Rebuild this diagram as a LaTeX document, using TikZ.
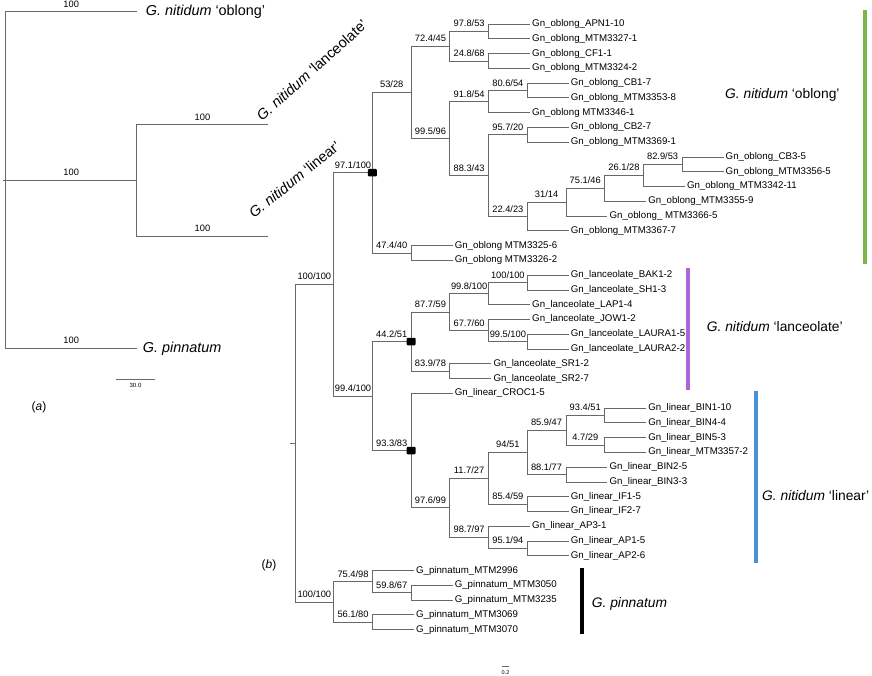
\documentclass[tikz,border=0pt]{standalone}
\usepackage{fontspec}
\setmainfont{Liberation Sans}
\usepackage{xcolor}
\definecolor{branchgray}{RGB}{105,105,105}
\definecolor{oblonggreen}{RGB}{122,182,72}
\definecolor{lancpurple}{RGB}{170,102,214}
\definecolor{linearblue}{RGB}{74,144,217}
\tikzset{
leaf/.style={anchor=west, inner xsep=2pt, inner ysep=1pt, font=\fontsize{9.7}{10}\selectfont}, % tip labels
bs/.style={pos=0.75, above=4pt, inner sep=0pt, font=\fontsize{9.3}{10}\selectfont}, % support values over the branch
boot/.style={fill=black, rounded corners=1pt, minimum width=9pt, minimum height=7.5pt, inner sep=0pt}, % black node marks
clade/.style={anchor=west, inner sep=0pt, font=\fontsize{13.8}{16}\selectfont}, % clade names
cladebar/.style={line width=4pt}, % coloured bars on the right
}

\begin{document}
\begin{tikzpicture}[x=1pt, y=-1pt,
    every edge/.style={draw=branchgray, line width=0.7pt, to path={|- (\tikztotarget) \tikztonodes}}]
    \useasboundingbox (0,0) rectangle (872,676);

    % (a) species tree
    \coordinate (astub) at (2.5,180);
    \coordinate (aroot) at (5.7,180);
    \coordinate (ain) at (136.7,180);
    \coordinate (alanend) at (268.3,124.7);
    \coordinate (alinend) at (268.3,236);
    \node[clade, inner xsep=9pt, font=\fontsize{14.4}{16}\selectfont] (aobl) at (136.7,11.7) {\textit{G. nitidum} `oblong'};
    \node[clade, inner xsep=6pt, font=\fontsize{14.4}{16}\selectfont] (apin) at (136.7,348.3) {\textit{G. pinnatum}};
    \node[clade, anchor=base west, rotate=42, font=\fontsize{14.5}{16}\selectfont] (alan) at (262,122) {\textit{G. nitidum} `lanceolate'};
    \node[clade, anchor=base west, rotate=39, font=\fontsize{14.5}{16}\selectfont] (alin) at (254,219) {\textit{G. nitidum} `linear'};

    \draw[branchgray, line width=0.7pt] (astub) -- (aroot);
    \draw (aroot) edge node[bs]{100} (aobl)
                  edge node[bs]{100} (ain)
                  edge node[bs]{100} (apin)
          (ain) edge node[bs]{100} (alanend)
                edge node[bs]{100} (alinend);

    \coordinate (asc1) at (116,379);
    \coordinate (asc2) at (155,379);
    \draw[branchgray, line width=0.7pt] (asc1) -- node[below=1pt, font=\fontsize{6}{7}\selectfont, text=black]{30.0} (asc2);
    \node[font=\fontsize{12}{14}\selectfont] (labela) at (39,407) {(\textit{a})};

    % (b) gene tree, leaves
    \node[leaf] (l1) at (530.0,24.00) {Gn\_oblong\_APN1-10};
    \node[leaf] (l2) at (530.0,38.77) {Gn\_oblong\_MTM3327-1};
    \node[leaf] (l3) at (530.0,53.54) {Gn\_oblong\_CF1-1};
    \node[leaf] (l4) at (530.0,68.31) {Gn\_oblong\_MTM3324-2};
    \node[leaf] (l5) at (568.7,83.08) {Gn\_oblong\_CB1-7};
    \node[leaf] (l6) at (568.7,97.85) {Gn\_oblong\_MTM3353-8};
    \node[leaf] (l7) at (530.0,112.62) {Gn\_oblong MTM3346-1};
    \node[leaf] (l8) at (568.7,127.39) {Gn\_oblong\_CB2-7};
    \node[leaf] (l9) at (568.7,142.16) {Gn\_oblong\_MTM3369-1};
    \node[leaf] (l10) at (723.5,156.93) {Gn\_oblong\_CB3-5};
    \node[leaf] (l11) at (723.5,171.70) {Gn\_oblong\_MTM3356-5};
    \node[leaf] (l12) at (684.8,186.47) {Gn\_oblong\_MTM3342-11};
    \node[leaf] (l13) at (646.1,201.24) {Gn\_oblong\_MTM3355-9};
    \node[leaf] (l14) at (607.4,216.01) {Gn\_oblong\_ MTM3366-5};
    \node[leaf] (l15) at (568.7,230.78) {Gn\_oblong\_MTM3367-7};
    \node[leaf] (l16) at (452.6,245.55) {Gn\_oblong MTM3325-6};
    \node[leaf] (l17) at (452.6,260.32) {Gn\_oblong MTM3326-2};
    \node[leaf] (l18) at (568.7,275.09) {Gn\_lanceolate\_BAK1-2};
    \node[leaf] (l19) at (568.7,289.86) {Gn\_lanceolate\_SH1-3};
    \node[leaf] (l20) at (530.0,304.63) {Gn\_lanceolate\_LAP1-4};
    \node[leaf] (l21) at (530.0,319.40) {Gn\_lanceolate\_JOW1-2};
    \node[leaf] (l22) at (568.7,334.17) {Gn\_lanceolate\_LAURA1-5};
    \node[leaf] (l23) at (568.7,348.94) {Gn\_lanceolate\_LAURA2-2};
    \node[leaf] (l24) at (491.3,363.71) {Gn\_lanceolate\_SR1-2};
    \node[leaf] (l25) at (491.3,378.48) {Gn\_lanceolate\_SR2-7};
    \node[leaf] (l26) at (452.6,393.25) {Gn\_linear\_CROC1-5};
    \node[leaf] (l27) at (646.1,408.02) {Gn\_linear\_BIN1-10};
    \node[leaf] (l28) at (646.1,422.79) {Gn\_linear\_BIN4-4};
    \node[leaf] (l29) at (646.1,437.56) {Gn\_linear\_BIN5-3};
    \node[leaf] (l30) at (646.1,452.33) {Gn\_linear\_MTM3357-2};
    \node[leaf] (l31) at (607.4,467.10) {Gn\_linear\_BIN2-5};
    \node[leaf] (l32) at (607.4,481.87) {Gn\_linear\_BIN3-3};
    \node[leaf] (l33) at (568.7,496.64) {Gn\_linear\_IF1-5};
    \node[leaf] (l34) at (568.7,511.41) {Gn\_linear\_IF2-7};
    \node[leaf] (l35) at (530.0,526.18) {Gn\_linear\_AP3-1};
    \node[leaf] (l36) at (568.7,540.95) {Gn\_linear\_AP1-5};
    \node[leaf] (l37) at (568.7,555.72) {Gn\_linear\_AP2-6};
    \node[leaf] (l38) at (413.9,570.49) {G\_pinnatum\_MTM2996};
    \node[leaf] (l39) at (452.6,585.26) {G\_pinnatum\_MTM3050};
    \node[leaf] (l40) at (452.6,600.03) {G\_pinnatum\_MTM3235};
    \node[leaf] (l41) at (413.9,614.80) {G\_pinnatum\_MTM3069};
    \node[leaf] (l42) at (413.9,629.57) {G\_pinnatum\_MTM3070};

    % (b) gene tree, inner nodes
    \coordinate (rstub) at (290,443.1);
    \coordinate (root) at (295,443.1);
    \coordinate (nit) at (333.7,284.3);
    \coordinate (pin) at (333.7,601.9);
    \coordinate (obl) at (372.4,172.7);
    \coordinate (lanlin) at (372.4,396.0);
    \coordinate (o5328) at (411.1,92.4);
    \coordinate (o474) at (411.1,252.9);
    \coordinate (o724) at (449.8,46.2);
    \coordinate (o995) at (449.8,138.6);
    \coordinate (o978) at (488.5,31.4);
    \coordinate (o248) at (488.5,60.9);
    \coordinate (o918) at (488.5,101.5);
    \coordinate (o883) at (488.5,175.6);
    \coordinate (o806) at (527.2,90.5);
    \coordinate (o957) at (527.2,134.8);
    \coordinate (o224) at (527.2,216.5);
    \coordinate (o3114) at (565.9,202.2);
    \coordinate (o751) at (604.6,188.3);
    \coordinate (o261) at (643.3,175.4);
    \coordinate (o829) at (682.0,164.3);
    \coordinate (c442) at (411.1,341.6);
    \coordinate (c877) at (449.8,312.0);
    \coordinate (c839) at (449.8,371.1);
    \coordinate (c998) at (488.5,293.6);
    \coordinate (c677) at (488.5,330.5);
    \coordinate (c100) at (527.2,282.5);
    \coordinate (c995) at (527.2,341.6);
    \coordinate (r933) at (411.1,450.5);
    \coordinate (r976) at (449.8,507.7);
    \coordinate (r117) at (488.5,478.2);
    \coordinate (r987) at (488.5,537.3);
    \coordinate (r9451) at (527.2,452.3);
    \coordinate (r854) at (527.2,504.0);
    \coordinate (r951) at (527.2,548.3);
    \coordinate (r859) at (565.9,430.2);
    \coordinate (r881) at (565.9,474.5);
    \coordinate (r934) at (604.6,415.4);
    \coordinate (r47) at (604.6,444.9);
    \coordinate (p754) at (372.4,581.6);
    \coordinate (p561) at (372.4,622.2);
    \coordinate (p598) at (411.1,592.6);

    \draw[branchgray, line width=0.7pt] (rstub) -- (root);
    \draw (root) edge node[bs]{100/100} (nit)
                 edge node[bs]{100/100} (pin)
          (nit) edge node[bs]{97.1/100} (obl)
                edge node[bs]{99.4/100} (lanlin)
          (obl) edge node[bs]{53/28} (o5328)
                edge node[bs]{47.4/40} (o474)
          (o5328) edge node[bs]{72.4/45} (o724)
                  edge node[bs]{99.5/96} (o995)
          (o724) edge node[bs]{97.8/53} (o978)
                 edge node[bs]{24.8/68} (o248)
          (o978) edge (l1) edge (l2)
          (o248) edge (l3) edge (l4)
          (o995) edge node[bs]{91.8/54} (o918)
                 edge node[bs]{88.3/43} (o883)
          (o918) edge node[bs]{80.6/54} (o806) edge (l7)
          (o806) edge (l5) edge (l6)
          (o883) edge node[bs]{95.7/20} (o957)
                 edge node[bs]{22.4/23} (o224)
          (o957) edge (l8) edge (l9)
          (o224) edge node[bs]{31/14} (o3114) edge (l15)
          (o3114) edge node[bs]{75.1/46} (o751) edge (l14)
          (o751) edge node[bs]{26.1/28} (o261) edge (l13)
          (o261) edge node[bs]{82.9/53} (o829) edge (l12)
          (o829) edge (l10) edge (l11)
          (o474) edge (l16) edge (l17)
          (lanlin) edge node[bs]{44.2/51} (c442)
                   edge node[bs]{93.3/83} (r933)
          (c442) edge node[bs]{87.7/59} (c877)
                 edge node[bs]{83.9/78} (c839)
          (c877) edge node[bs]{99.8/100} (c998)
                 edge node[bs]{67.7/60} (c677)
          (c998) edge node[bs]{100/100} (c100) edge (l20)
          (c100) edge (l18) edge (l19)
          (c677) edge (l21) edge node[bs]{99.5/100} (c995)
          (c995) edge (l22) edge (l23)
          (c839) edge (l24) edge (l25)
          (r933) edge (l26) edge node[bs]{97.6/99} (r976)
          (r976) edge node[bs]{11.7/27} (r117)
                 edge node[bs]{98.7/97} (r987)
          (r117) edge node[bs]{94/51} (r9451)
                 edge node[bs]{85.4/59} (r854)
          (r9451) edge node[bs]{85.9/47} (r859)
                  edge node[bs]{88.1/77} (r881)
          (r859) edge node[bs]{93.4/51} (r934)
                 edge node[bs]{4.7/29} (r47)
          (r934) edge (l27) edge (l28)
          (r47) edge (l29) edge (l30)
          (r881) edge (l31) edge (l32)
          (r854) edge (l33) edge (l34)
          (r987) edge (l35) edge node[bs]{95.1/94} (r951)
          (r951) edge (l36) edge (l37)
          (pin) edge node[bs]{75.4/98} (p754)
                edge node[bs]{56.1/80} (p561)
          (p754) edge (l38) edge node[bs]{59.8/67} (p598)
          (p598) edge (l39) edge (l40)
          (p561) edge (l41) edge (l42);

    % black marks on three nodes
    \node[boot] (bobl) at (obl) {};
    \node[boot] (blan) at (c442) {};
    \node[boot] (blin) at (r933) {};

    % clade bars and names
    \draw[cladebar, oblonggreen] (864.7,10) -- (864.7,264);
    \draw[cladebar, lancpurple] (688.3,268) -- (688.3,390);
    \draw[cladebar, linearblue] (755.7,391) -- (755.7,563);
    \draw[cladebar, black] (581.7,568) -- (581.7,634);
    \node[clade] (tobl) at (725,95) {\textit{G. nitidum} `oblong'};
    \node[clade] (tlan) at (706.7,327) {\textit{G. nitidum} `lanceolate'};
    \node[clade] (tlin) at (762,496) {\textit{G. nitidum} `linear'};
    \node[clade] (tpin) at (591.7,604) {\textit{G. pinnatum}};

    \coordinate (bsc1) at (502,666.7);
    \coordinate (bsc2) at (509,666.7);
    \draw[branchgray, line width=0.7pt] (bsc1) -- node[below=0.5pt, font=\fontsize{5.5}{6}\selectfont, text=black]{0.2} (bsc2);
    \node[font=\fontsize{12}{14}\selectfont] (labelb) at (269,565) {(\textit{b})};
\end{tikzpicture}
\end{document}
